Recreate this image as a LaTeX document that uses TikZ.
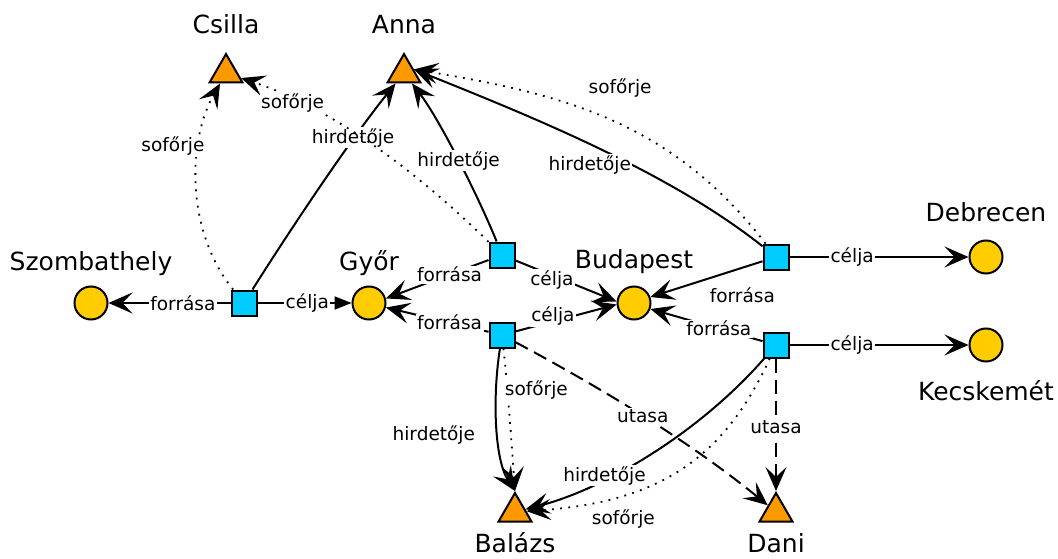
\documentclass[tikz,border=0pt]{standalone}
\usepackage{fontspec}
\setmainfont{DejaVu Sans}
\usetikzlibrary{arrows.meta,shapes.geometric}

\definecolor{cityfill}{HTML}{FFCC00}
\definecolor{tripfill}{HTML}{00CCFF}
\definecolor{personfill}{HTML}{FF9900}

\tikzset{
    city/.style={circle, draw, line width=2pt, fill=cityfill, minimum size=33pt, inner sep=0pt},
    trip/.style={rectangle, draw, line width=2pt, fill=tripfill, minimum size=25pt, inner sep=0pt},
    person/.style={regular polygon, regular polygon sides=3, draw, line width=2pt, fill=personfill, minimum size=38pt, inner sep=0pt},
    nametext/.style={font=\fontsize{25}{30}\selectfont, inner sep=0pt, text height=18pt, text depth=0pt},
    lbl/.style={font=\fontsize{18.5}{22}\selectfont, fill=white, inner sep=1.5pt},
    dotline/.style={line width=1.8pt, dash pattern=on 1.8pt off 6.4pt},
    dashline/.style={dash pattern=on 14pt off 7pt},
}

\begin{document}
\begin{tikzpicture}[x=1pt, y=-1pt, line width=2pt,
    >={Stealth[length=24pt, width=21pt, inset=10pt]}]

    \useasboundingbox (0,0) rectangle (1058,559);

    % Cities
    \node[city, label={[nametext, label distance=14pt]above:Szombathely}] (szo) at (91,303) {};
    \node[city, label={[nametext, label distance=14pt]above:Győr}] (gyr) at (369,303) {};
    \node[city, label={[nametext, label distance=16pt]above:Budapest}] (bud) at (634,303) {};
    \node[city, label={[nametext, label distance=17pt]above:Debrecen}] (deb) at (986,257) {};
    \node[city, label={[nametext, label distance=19pt]below:Kecskemét}] (kec) at (986,345) {};

    % People
    \node[person, label={[nametext, label distance=17pt]above:Csilla}] (csi) at (226,73) {};
    \node[person, label={[nametext, label distance=17pt]above:Anna}] (anna) at (404,73) {};
    \node[person, label={[nametext, label distance=11pt]below:Balázs}] (bal) at (515,512) {};
    \node[person, label={[nametext, label distance=11pt]below:Dani}] (dani) at (776,512) {};

    % Trips
    \node[trip] (t1) at (244,303) {};
    \node[trip] (t2) at (502,255) {};
    \node[trip] (t3) at (502,335) {};
    \node[trip] (t4) at (776,257) {};
    \node[trip] (t5) at (776,345) {};

    % --- Trip 1: Szombathely -> Győr ---
    \draw[->] (t1) -- node[lbl, pos=.39] {forrása} (szo);
    \draw[-{Triangle[length=17pt, width=13pt]}] (t1) -- node[lbl, pos=.53] {célja} (gyr);
    \draw[->] (t1) .. controls (290,230) and (350,140) .. node[lbl, pos=.71, yshift=2pt] {hirdetője} (anna);
    \draw[->, dotline] (t1) .. controls (185,230) and (188,140) .. node[lbl, pos=.68, xshift=-26pt] {sofőrje} (csi);

    % --- Trip 2: Győr -> Budapest ---
    \draw[->] (t2) -- node[lbl, pos=.38] {forrása} (gyr.15);
    \draw[->] (t2) -- node[lbl, pos=.36, yshift=-5pt] {célja} (bud.175);
    \draw[->] (t2) .. controls (480,200) and (440,120) .. node[lbl, pos=.5] {hirdetője} (anna);
    \draw[->, dotline] (t2) .. controls (410,165) and (328,107) .. node[lbl, pos=.8, yshift=-4pt] {sofőrje} (csi);

    % --- Trip 3: Győr -> Budapest ---
    \draw[->] (t3) -- node[lbl, pos=.38] {forrása} (gyr.-15);
    \draw[->] (t3) -- node[lbl, pos=.37, yshift=5pt] {célja} (bud.185);
    \draw[->] (t3) .. controls (492,400) and (495,460) .. node[lbl, pos=.55, xshift=-64pt] {hirdetője} (bal.north);
    \draw[->, dotline] (t3) .. controls (508,390) and (512,450) .. node[lbl, pos=.3, xshift=29pt] {sofőrje} (bal.north);
    \draw[->, dashline] (t3) .. controls (620,398) and (700,450) .. node[lbl, pos=.45] {utasa} (dani);

    % --- Trip 4: Budapest -> Debrecen ---
    \draw[->] (t4) -- node[lbl, pos=.35] {célja} (deb);
    \draw[->] (t4) -- node[lbl, pos=.18, yshift=-28pt] {forrása} (bud.20);
    \draw[->] (t4) .. controls (668,171) and (525,114) .. node[lbl, pos=.45, xshift=-23pt, yshift=-10pt] {hirdetője} (anna.20);
    \draw[->, dotline] (t4) .. controls (670,120) and (561,94) .. node[lbl, pos=.5, xshift=11pt, yshift=31pt] {sofőrje} (anna.20);

    % --- Trip 5: Budapest -> Kecskemét ---
    \draw[->] (t5) -- node[lbl, pos=.35] {célja} (kec);
    \draw[->] (t5) -- node[lbl, pos=.39] {forrása} (bud.-20);
    \draw[->] (t5) .. controls (699,433) and (605,489) .. node[lbl, pos=.65, xshift=-8pt] {hirdetője} (bal);
    \draw[->, dotline] (t5) .. controls (724,458) and (660,502) .. node[lbl, pos=.7, xshift=-6pt, yshift=-26pt] {sofőrje} (bal);
    \draw[->, dashline] (t5) -- node[lbl, pos=.52] {utasa} (dani);

\end{tikzpicture}
\end{document}
